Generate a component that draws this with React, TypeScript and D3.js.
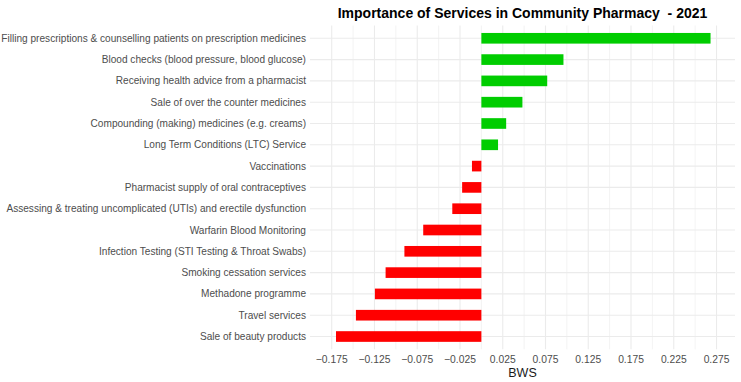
import * as d3 from "d3";

const services = [
  "Filling prescriptions & counselling patients on prescription medicines",
  "Blood checks (blood pressure, blood glucose)",
  "Receiving health advice from a pharmacist",
  "Sale of over the counter medicines",
  "Compounding (making) medicines (e.g. creams)",
  "Long Term Conditions (LTC) Service",
  "Vaccinations",
  "Pharmacist supply of oral contraceptives",
  "Assessing & treating uncomplicated (UTIs) and erectile dysfunction",
  "Warfarin Blood Monitoring",
  "Infection Testing (STI Testing & Throat Swabs)",
  "Smoking cessation services",
  "Methadone programme",
  "Travel services",
  "Sale of beauty products",
];

const bws = [
  0.268, 0.096, 0.077, 0.048, 0.029, 0.0195, -0.011, -0.0225, -0.034, -0.068,
  -0.09, -0.112, -0.1245, -0.1467, -0.17,
];

const majorTicks = [-0.175, -0.125, -0.075, -0.025, 0.025, 0.075, 0.125, 0.175, 0.225, 0.275];
const minorTicks = [-0.15, -0.1, -0.05, 0, 0.05, 0.1, 0.15, 0.2, 0.25];

const W = 741;
const H = 382;
const panel = { left: 310, right: 735, top: 25.5, bottom: 349.3 };
const font = "'Liberation Sans', Arial, sans-serif";

export default function App() {
  const x = d3.scaleLinear().domain([-0.2004, 0.2966]).range([panel.left, panel.right]);
  const y = d3
    .scalePoint<string>()
    .domain(services)
    .range([panel.top, panel.bottom])
    .padding(0.6);
  const barH = y.step() * 0.5;

  return (
    <svg
      width={W}
      height={H}
      style={{ position: "absolute", left: 0, top: 0, background: "#fff" }}
      fontFamily={font}
    >
      {/* grid */}
      <g>
        {minorTicks.map((t) => (
          <line
            key={"mi" + t}
            x1={x(t)}
            x2={x(t)}
            y1={panel.top}
            y2={panel.bottom}
            stroke="#EBEBEB"
            strokeWidth={0.6}
          />
        ))}
        {majorTicks.map((t) => (
          <line
            key={"ma" + t}
            x1={x(t)}
            x2={x(t)}
            y1={panel.top}
            y2={panel.bottom}
            stroke="#EBEBEB"
            strokeWidth={1.1}
          />
        ))}
        {services.map((s) => (
          <line
            key={"h" + s}
            x1={panel.left}
            x2={panel.right}
            y1={y(s)}
            y2={y(s)}
            stroke="#EBEBEB"
            strokeWidth={1.1}
          />
        ))}
      </g>

      {/* bars */}
      <g>
        {services.map((s, i) => {
          const v = bws[i];
          return (
            <rect
              key={s}
              x={x(Math.min(0, v))}
              width={Math.abs(x(v) - x(0))}
              y={(y(s) ?? 0) - barH / 2}
              height={barH}
              fill={v >= 0 ? "#00CD00" : "#FF0000"}
            />
          );
        })}
      </g>

      {/* y labels */}
      <g fontSize={10.1} fill="#4D4D4D" textAnchor="end">
        {services.map((s) => (
          <text key={s} x={panel.left - 4} y={y(s)} dy="0.35em">
            {s}
          </text>
        ))}
      </g>

      {/* x labels */}
      <g fontSize={10.3} fill="#4D4D4D" textAnchor="middle">
        {majorTicks.map((t) => (
          <text key={t} x={x(t)} y={363}>
            {d3.format(".3f")(t)}
          </text>
        ))}
      </g>

      <text
        x={(panel.left + panel.right) / 2}
        y={377}
        fontSize={12.5}
        textAnchor="middle"
        fill="#1a1a1a"
      >
        BWS
      </text>

      <text
        x={(panel.left + panel.right) / 2}
        y={18}
        fontSize={14}
        fontWeight="bold"
        textAnchor="middle"
        fill="#000"
      >
        Importance of Services in Community Pharmacy {"\u00A0"}- 2021
      </text>
    </svg>
  );
}
